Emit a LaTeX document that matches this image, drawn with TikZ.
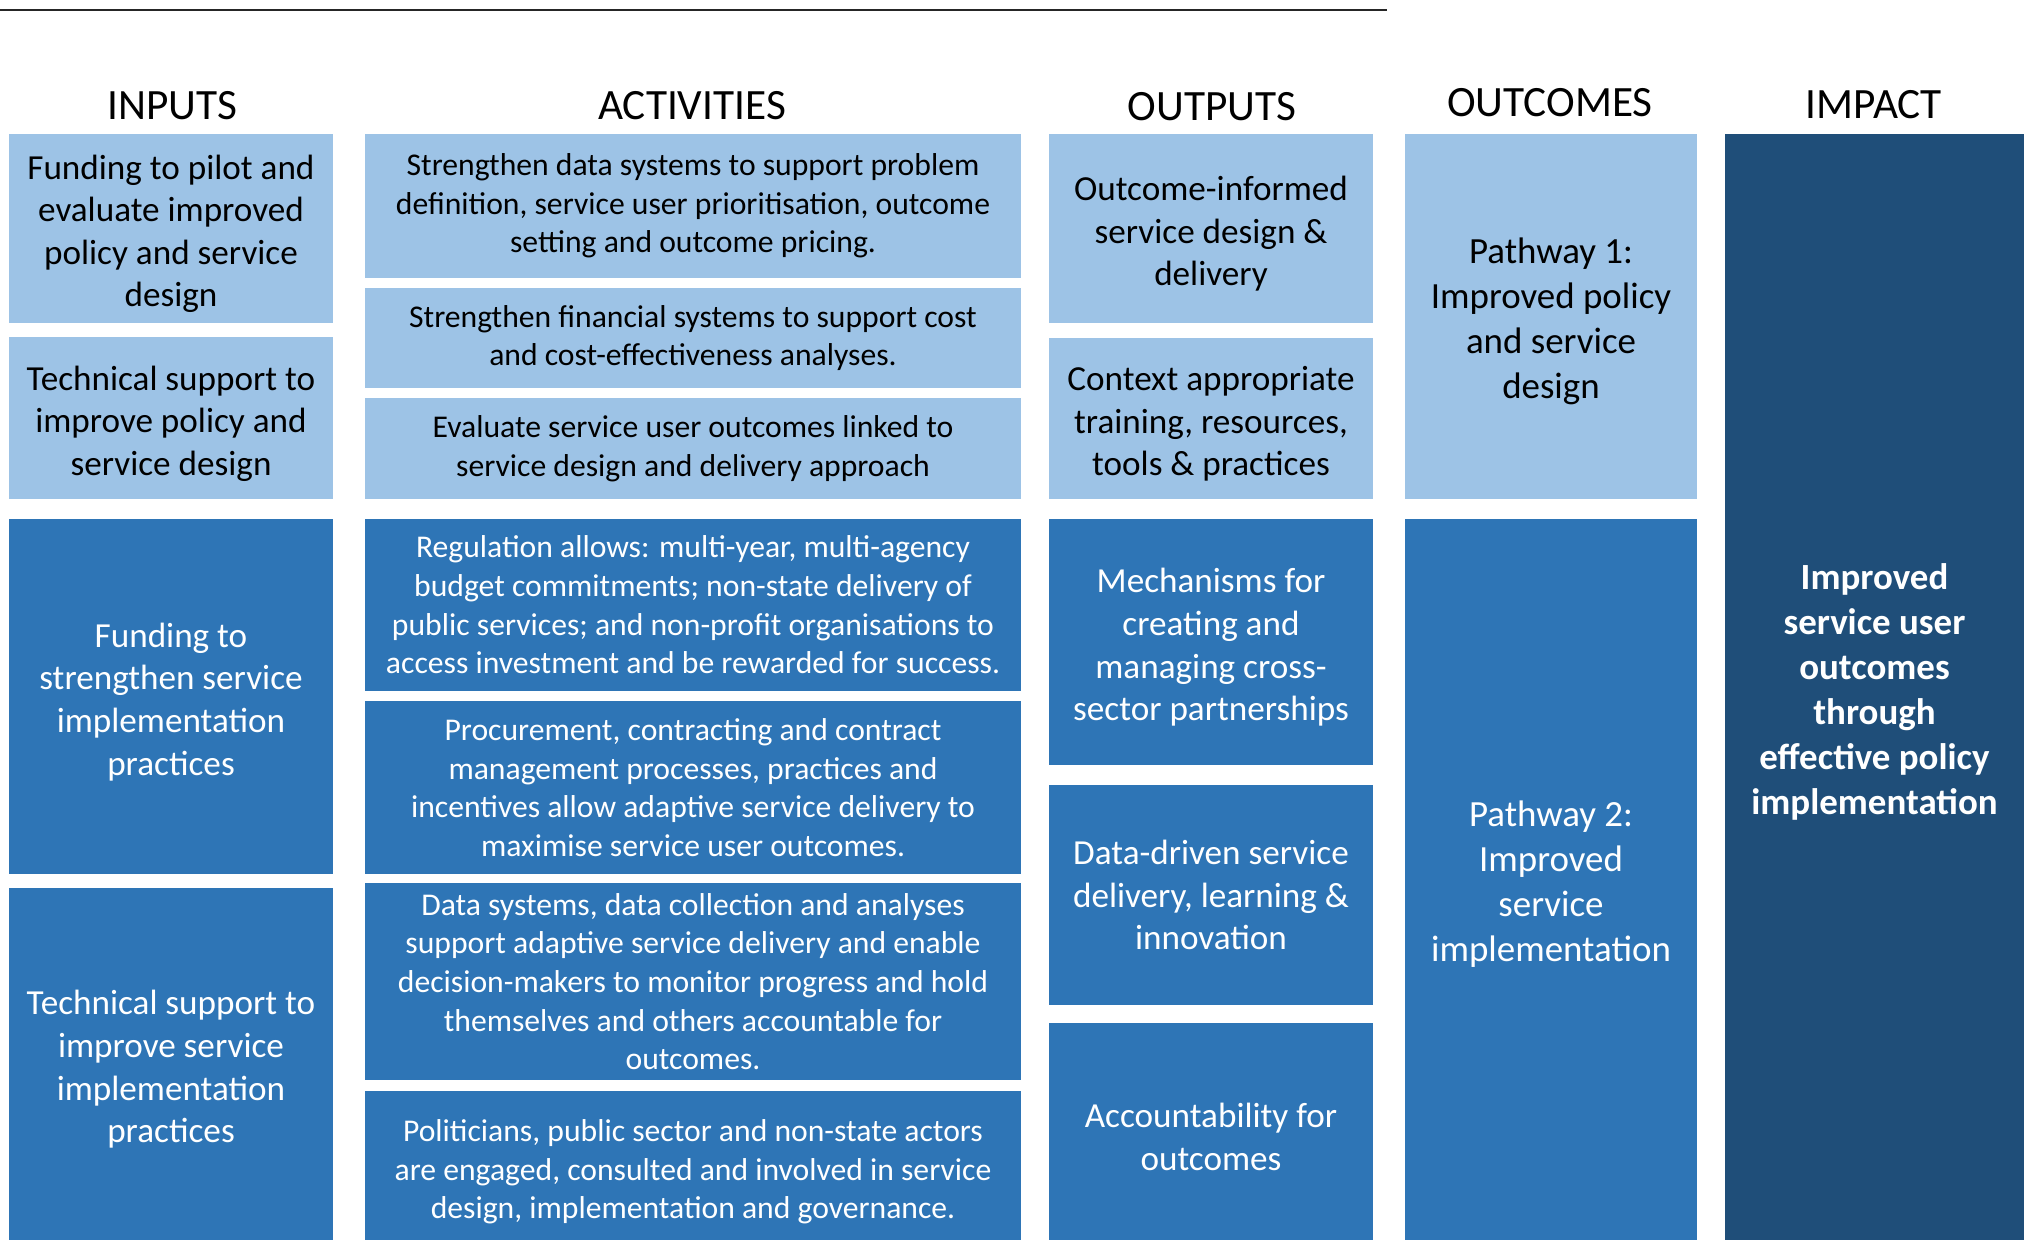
\documentclass[tikz,border=0pt]{standalone}
\usepackage{fontspec}
\setmainfont{Carlito}
\definecolor{lightblue}{HTML}{9DC3E6}
\definecolor{midblue}{HTML}{2E75B6}
\definecolor{darkblue}{HTML}{1F4E79}
\newcommand\lowtop{\rule{0pt}{10pt}}
\begin{document}
\begin{tikzpicture}[x=0.01cm, y=-0.01cm,
  cell/.style={inner sep=0pt, align=center, anchor=center},
  light/.style={cell, fill=lightblue, text=black},
  mid/.style={cell, fill=midblue, text=white},
  dark/.style={cell, fill=darkblue, text=white},
  bigtxt/.style={font=\fontsize{10}{12.1}\selectfont},
  smalltxt/.style={font=\fontsize{9}{11}\selectfont},
  pathtxt/.style={font=\fontsize{10.5}{12.8}\selectfont},
  head/.style={font=\fontsize{12.3}{14}\selectfont}]
  \useasboundingbox (0, 0) rectangle (2024, 1240);
  \draw[line width=.6pt, black!85] (0, 10) -- (1387, 10);

  \node at(172, 106) [head](hin){INPUTS};
  \node at(692, 106) [head](hact){ACTIVITIES};
  \node at(1212, 107) [head](hout){OUTPUTS};
  \node at(1550, 103) [head](hoc){OUTCOMES};
  \node at(1874, 105) [head](himp){IMPACT};

  \node at(171, 228.5) [light, bigtxt, minimum width=3.24cm, minimum height=1.89cm](in1)
  {\lowtop Funding to pilot and\\evaluate improved\\policy and service\\design};
  \node at(171, 418) [light, bigtxt, minimum width=3.24cm, minimum height=1.62cm](in2)
  {\lowtop Technical support to\\improve policy and\\service design};
  \node at(171, 696.5) [mid, bigtxt, minimum width=3.24cm, minimum height=3.55cm](in3)
  {\lowtop Funding to\\strengthen service\\implementation\\practices};
  \node at(171, 1064) [mid, bigtxt, minimum width=3.24cm, minimum height=3.52cm](in4)
  {\lowtop Technical support to\\improve service\\implementation\\practices};

  \node at(693, 206) [light, smalltxt, minimum width=6.56cm, minimum height=1.44cm](act1)
  {Strengthen data systems to support problem\\definition, service user prioritisation, outcome\\setting and outcome pricing.};
  \node at(693, 338) [light, smalltxt, minimum width=6.56cm, minimum height=1.00cm](act2)
  {Strengthen financial systems to support cost\\and cost-effectiveness analyses.};
  \node at(693, 448.5) [light, smalltxt, minimum width=6.56cm, minimum height=1.01cm](act3)
  {Evaluate service user outcomes linked to\\service design and delivery approach};
  \node at(693, 605) [mid, smalltxt, minimum width=6.56cm, minimum height=1.72cm](act4)
  {Regulation allows: multi-year, multi-agency\\budget commitments; non-state delivery of\\public services; and non-profit organisations to\\access investment and be rewarded for success.};
  \node at(693, 787.5) [mid, smalltxt, minimum width=6.56cm, minimum height=1.73cm](act5)
  {Procurement, contracting and contract\\management processes, practices and\\incentives allow adaptive service delivery to\\maximise service user outcomes.};
  \node at(693, 981.5) [mid, smalltxt, minimum width=6.56cm, minimum height=1.97cm](act6)
  {Data systems, data collection and analyses\\support adaptive service delivery and enable\\decision-makers to monitor progress and hold\\themselves and others accountable for\\outcomes.};
  \node at(693, 1172) [mid, smalltxt, minimum width=6.56cm, minimum height=1.62cm](act7)
  {Politicians, public sector and non-state actors\\are engaged, consulted and involved in service\\design, implementation and governance.};

  \node at(1211, 228.5) [light, bigtxt, minimum width=3.24cm, minimum height=1.89cm](out1)
  {\lowtop Outcome-informed\\service design \&\\delivery};
  \node at(1211, 418.5) [light, bigtxt, minimum width=3.24cm, minimum height=1.61cm](out2)
  {\lowtop Context appropriate\\training, resources,\\tools \& practices};
  \node at(1211, 642) [mid, bigtxt, minimum width=3.24cm, minimum height=2.46cm](out3)
  {\lowtop Mechanisms for\\creating and\\managing cross-\\sector partnerships};
  \node at(1211, 895) [mid, bigtxt, minimum width=3.24cm, minimum height=2.20cm](out4)
  {Data-driven service\\delivery, learning \&\\innovation};
  \node at(1211, 1131.5) [mid, bigtxt, minimum width=3.24cm, minimum height=2.17cm](out5)
  {\lowtop Accountability for\\outcomes};

  \node at(1551, 316.5) [light, pathtxt, minimum width=2.92cm, minimum height=3.65cm](oc1)
  {\lowtop Pathway 1:\\Improved policy\\and service\\design};
  \node at(1551, 879.5) [mid, pathtxt, minimum width=2.92cm, minimum height=7.21cm](oc2)
  {\lowtop Pathway 2:\\Improved\\service\\implementation};

  \node at(1874.5, 687) [dark, pathtxt, minimum width=2.99cm, minimum height=11.06cm](imp)
  {\lowtop\bfseries Improved\\\bfseries service user\\\bfseries outcomes\\\bfseries through\\\bfseries effective policy\\\bfseries implementation};
\end{tikzpicture}
\end{document}
